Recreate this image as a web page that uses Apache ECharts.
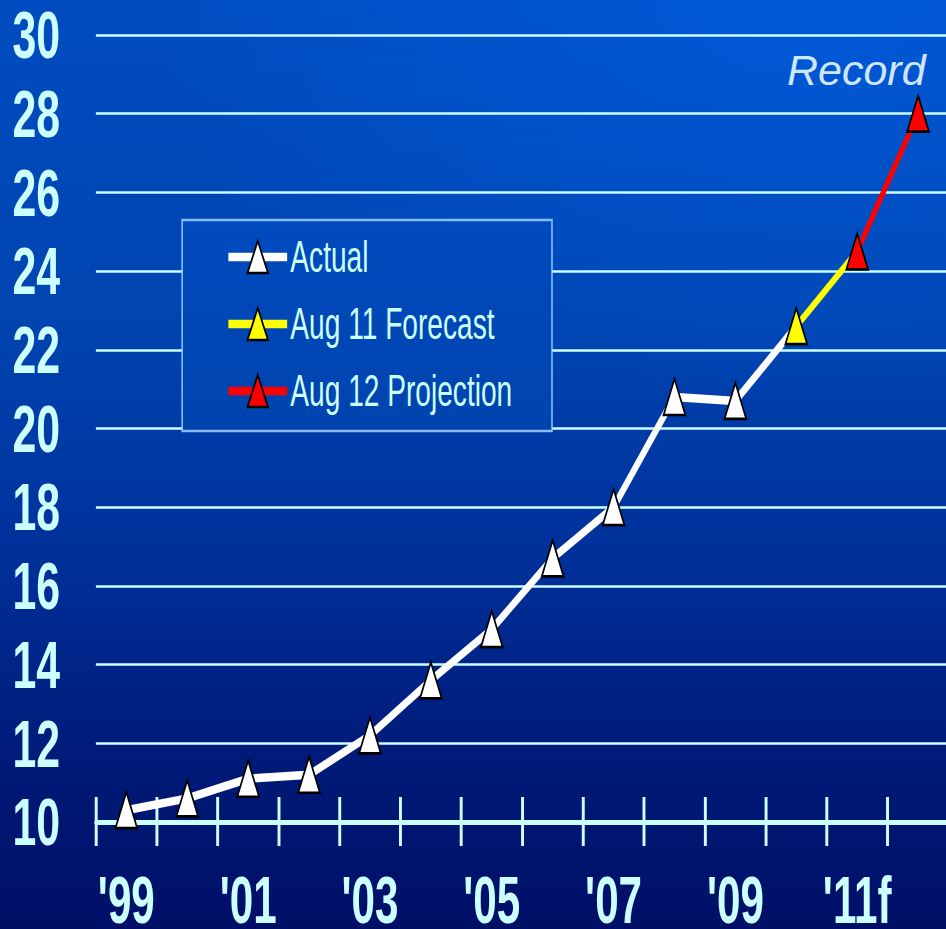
<!DOCTYPE html>
<html>
<head>
<meta charset="utf-8">
<script src="https://cdn.jsdelivr.net/npm/echarts@6/dist/echarts.min.js"></script>
<style>
  html, body { margin: 0; padding: 0; width: 946px; height: 929px; overflow: hidden; }
  body {
    background:
      radial-gradient(ellipse 70% 45% at 85% 0%, rgba(0, 100, 235, 0.55), rgba(0, 100, 235, 0) 100%),
      linear-gradient(to bottom, #004cc0 0%, #0044b0 35%, #00309a 60%, #001a78 82%, #000f66 100%);
  }
  /* The chart is laid out on a wider canvas and squeezed horizontally,
     giving the condensed look of the lettering and markers. */
  #chart {
    width: 1480px; height: 929px;
    transform: scaleX(0.639189);
    transform-origin: 0 0;
  }
</style>
</head>
<body>
<div id="chart"></div>
<script>
// Category labels, one per year
const years = ["'99", "'00", "'01", "'02", "'03", "'04", "'05", "'06", "'07", "'08", "'09", "'10", "'11f", "'12f"];

// Actual values, '99 through '10
const actualValues = [10.3, 10.6, 11.1, 11.2, 12.2, 13.6, 14.9, 16.7, 18.0, 20.8, 20.7, 22.6];
// Aug 11 forecast, '10 to '11
const forecastValues = [22.6, 24.5];
const forecastStart = 11;
// Aug 12 projection, '11 to '12
const projectionValues = [24.5, 28.0];
const projectionStart = 12;

// Value axis
const yMin = 10, yMax = 30, yStep = 2;

const K = 946 / 1480;            // horizontal squeeze applied to the chart container

const CYAN = '#ccffff';
const FONT = '"Liberation Sans", Arial, sans-serif';

// Pads a short run of values to the full category length; hidden marker where requested
function padded(values, start, noMarkerAt) {
  const out = years.map(() => null);
  values.forEach((v, i) => {
    const idx = start + i;
    out[idx] = (noMarkerAt.indexOf(idx) >= 0) ? { value: v, symbol: 'none' } : v;
  });
  return out;
}

const actualData = padded(actualValues, 0, [actualValues.length - 1]);
const forecastData = padded(forecastValues, forecastStart, [forecastStart + 1]);
const projectionData = padded(projectionValues, projectionStart, []);

const chart = echarts.init(document.getElementById('chart'), null, { renderer: 'svg', width: 1480, height: 929 });

const markerStyle = (c) => ({ color: c, borderColor: '#000', borderWidth: 2.6 });

chart.setOption({
  animation: false,
  backgroundColor: 'transparent',
  grid: { left: 150, top: 35, width: 1334, height: 787, containLabel: false, outerBoundsMode: 'none' },
  xAxis: [
    {
      type: 'category',
      data: years,
      boundaryGap: true,
      axisLine: { show: true, lineStyle: { color: CYAN, width: 5 } },
      axisTick: { show: true, interval: 0, length: 24, lineStyle: { color: CYAN, width: 4.6 } },
      axisLabel: {
        interval: 1, margin: 54, color: CYAN,
        fontFamily: FONT, fontWeight: 'bold', fontSize: 66, lineHeight: 48
      },
      splitLine: { show: false }
    },
    {
      type: 'category',
      data: years,
      position: 'bottom',
      boundaryGap: true,
      axisLine: { show: false },
      axisTick: { show: true, inside: true, interval: 0, length: 25, lineStyle: { color: CYAN, width: 4.6 } },
      axisLabel: { show: false },
      splitLine: { show: false }
    }
  ],
  yAxis: {
    type: 'value',
    min: yMin, max: yMax, interval: yStep,
    axisLine: { show: false },
    axisTick: { show: false },
    axisLabel: {
      margin: 56, color: CYAN,
      fontFamily: FONT, fontWeight: 'bold', fontSize: 67, lineHeight: 50
    },
    splitLine: { show: true, lineStyle: { color: CYAN, width: 2.5 } }
  },
  legend: {
    orient: 'vertical',
    left: 285, top: 220,
    padding: [15, 62, 18, 68],
    itemWidth: 92, itemHeight: 40, itemGap: 23,
    borderColor: 'rgba(160, 210, 255, 0.85)', borderWidth: 2.5,
    backgroundColor: {
      type: 'linear', x: 0, y: 0, x2: 0, y2: 1,
      colorStops: [{ offset: 0, color: '#004bbf' }, { offset: 1, color: '#0043ad' }]
    },
    itemStyle: { borderColor: '#000', borderWidth: 2.6 },
    lineStyle: { width: 8.5 },
    textStyle: { color: CYAN, fontFamily: FONT, fontSize: 44, lineHeight: 40 },
    data: ['Actual', 'Aug 11 Forecast', 'Aug 12 Projection']
  },
  graphic: [
    {
      type: 'text',
      x: 787 / K, y: 70,
      scaleX: 1 / K,
      style: {
        text: 'Record',
        fill: '#cfe6ff',
        font: 'italic 43px ' + FONT,
        textAlign: 'left',
        textVerticalAlign: 'middle'
      }
    }
  ],
  series: [
    {
      name: 'Actual', type: 'line', data: actualData,
      symbol: 'triangle', symbolSize: [34, 36],
      lineStyle: { color: '#ffffff', width: 8.5 },
      itemStyle: markerStyle('#ffffff')
    },
    {
      name: 'Aug 11 Forecast', type: 'line', data: forecastData,
      symbol: 'triangle', symbolSize: [34, 36],
      lineStyle: { color: '#ffff00', width: 7.5 },
      itemStyle: markerStyle('#ffff00')
    },
    {
      name: 'Aug 12 Projection', type: 'line', data: projectionData,
      symbol: 'triangle', symbolSize: [34, 36],
      lineStyle: { color: '#ff0000', width: 7.5 },
      itemStyle: markerStyle('#ff0000')
    }
  ]
});
</script>
</body>
</html>
